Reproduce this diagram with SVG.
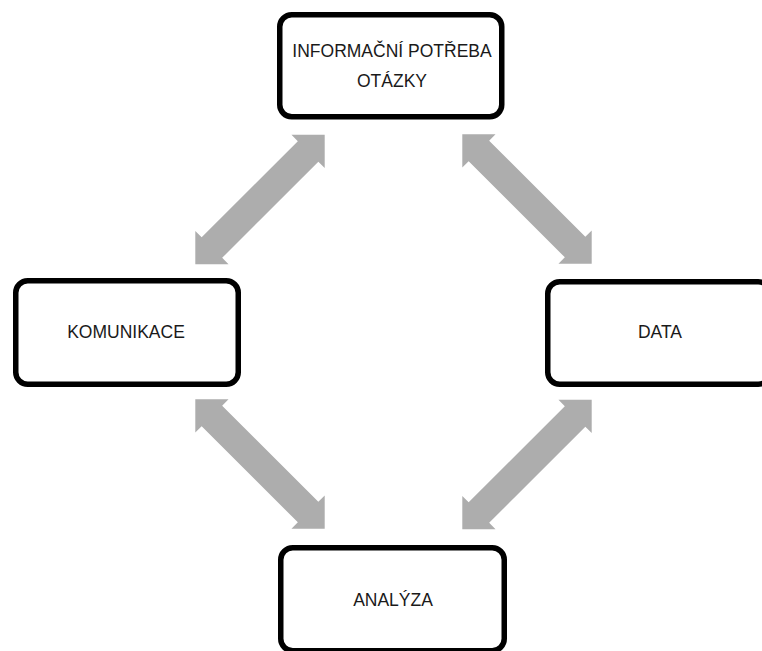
<svg xmlns="http://www.w3.org/2000/svg" xmlns:xlink="http://www.w3.org/1999/xlink" width="762" height="651" viewBox="0 0 762 651">
  <style>
    .box { fill: #ffffff; stroke: #000000; stroke-width: 5.5; }
    .label { font-family: "Liberation Sans", Arial, sans-serif; font-size: 17.5px; fill: #1a1a1a; text-anchor: middle; }
    .conn { fill: #adadad; }
  </style>
  <defs>
    <!-- double-headed block arrow, centred on the origin, pointing along x -->
    <path id="dblArrow" d="M -91.5 0 L -68 -23.5 L -68 -14.5 L 68 -14.5 L 68 -23.5 L 91.5 0 L 68 23.5 L 68 14.5 L -68 14.5 L -68 23.5 Z"/>
  </defs>
  <rect width="762" height="651" fill="#ffffff"/>

  <g id="connectors">
    <use xlink:href="#dblArrow" class="conn" transform="translate(260 199.5) rotate(-45)"/>
    <use xlink:href="#dblArrow" class="conn" transform="translate(527 199) rotate(45)"/>
    <use xlink:href="#dblArrow" class="conn" transform="translate(260 464) rotate(45)"/>
    <use xlink:href="#dblArrow" class="conn" transform="translate(527 464.5) rotate(-45)"/>
  </g>

  <g id="node-informacni-potreba">
    <rect class="box" x="279.75" y="14.75" width="222" height="102" rx="12"/>
    <text class="label" x="392" y="57">INFORMAČNÍ POTŘEBA</text>
    <text class="label" x="392" y="87">OTÁZKY</text>
  </g>

  <g id="node-komunikace">
    <rect class="box" x="15.75" y="280.75" width="222.5" height="103.5" rx="12"/>
    <text class="label" x="126" y="338">KOMUNIKACE</text>
  </g>

  <g id="node-data">
    <rect class="box" x="547.75" y="281.75" width="222.5" height="102.5" rx="12"/>
    <text class="label" x="660" y="338">DATA</text>
  </g>

  <g id="node-analyza">
    <rect class="box" x="280.75" y="547.75" width="223.5" height="103" rx="12"/>
    <text class="label" x="393" y="606">ANALÝZA</text>
  </g>
</svg>
